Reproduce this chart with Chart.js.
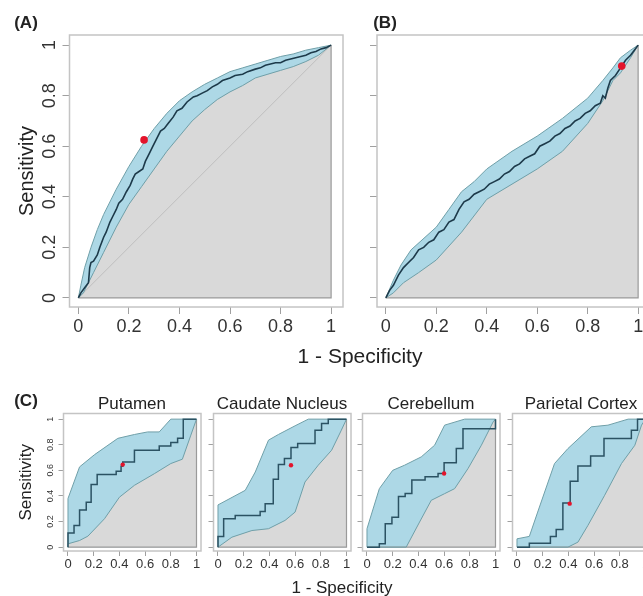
<!DOCTYPE html>
<html>
<head>
<meta charset="utf-8">
<script src="https://cdn.jsdelivr.net/npm/chart.js@4/dist/chart.umd.min.js"></script>
<style>
  html, body { margin: 0; padding: 0; background: #fff; overflow: hidden; }
  #fig { position: relative; width: 643px; height: 596px; font-family: "Liberation Sans", Arial, sans-serif; color: #222; }
  #fig canvas { position: absolute; }
  .lbl { position: absolute; white-space: nowrap; line-height: 1; transform: translate(-50%, -50%); }
</style>
</head>
<body>
<div id="fig">
  <canvas id="cA" width="350" height="345" style="left:0;top:0"></canvas>
  <canvas id="cB" width="310" height="345" style="left:350px;top:0"></canvas>
  <canvas id="c0" width="205" height="171" style="left:0;top:405px"></canvas>
  <canvas id="c1" width="205" height="171" style="left:150px;top:405px"></canvas>
  <canvas id="c2" width="205" height="171" style="left:299px;top:405px"></canvas>
  <canvas id="c3" width="205" height="171" style="left:449px;top:405px"></canvas>

  <div class="lbl" style="left:26px;top:22px;font-size:17px;font-weight:bold">(A)</div>
  <div class="lbl" style="left:385px;top:22px;font-size:17px;font-weight:bold">(B)</div>
  <div class="lbl" style="left:360px;top:355px;font-size:21px">1 - Specificity</div>
  <div class="lbl" style="left:26px;top:400px;font-size:17px;font-weight:bold">(C)</div>
  <div class="lbl" id="t0" style="left:132px;top:403px;font-size:17px"></div>
  <div class="lbl" id="t1" style="left:282px;top:403px;font-size:17px"></div>
  <div class="lbl" id="t2" style="left:431px;top:403px;font-size:17px"></div>
  <div class="lbl" id="t3" style="left:581px;top:403px;font-size:17px"></div>
  <div class="lbl" style="left:342px;top:587px;font-size:17px">1 - Specificity</div>
</div>
<script>
// axis ticks shared by all panels
const tickValues = [0, 0.2, 0.4, 0.6, 0.8, 1];
const tickLabels = ['0', '0.2', '0.4', '0.6', '0.8', '1'];
const panelTitles = ['Putamen', 'Caudate Nucleus', 'Cerebellum', 'Parietal Cortex'];

// (A) ROC curve, CI band, best threshold  — [1-specificity, sensitivity]
const rocA = [[0,0],[0.01,0.02],[0.025,0.04],[0.04,0.06],[0.045,0.12],[0.05,0.14],[0.06,0.145],[0.075,0.17],
  [0.085,0.2],[0.1,0.24],[0.11,0.26],[0.125,0.3],[0.135,0.32],[0.15,0.35],[0.16,0.375],[0.175,0.39],
  [0.19,0.42],[0.205,0.445],[0.215,0.47],[0.225,0.49],[0.24,0.5],[0.255,0.51],[0.265,0.54],[0.28,0.57],
  [0.295,0.6],[0.31,0.63],[0.325,0.66],[0.34,0.67],[0.355,0.69],[0.375,0.715],[0.39,0.74],[0.41,0.75],
  [0.43,0.775],[0.455,0.795],[0.47,0.8],[0.49,0.81],[0.51,0.82],[0.53,0.835],[0.55,0.845],[0.57,0.86],
  [0.6,0.87],[0.62,0.88],[0.65,0.885],[0.67,0.895],[0.7,0.905],[0.72,0.91],[0.74,0.92],[0.76,0.925],
  [0.78,0.93],[0.8,0.93],[0.82,0.94],[0.84,0.945],[0.86,0.95],[0.88,0.955],[0.9,0.96],[0.92,0.97],
  [0.94,0.975],[0.96,0.985],[0.98,0.99],[1,1]];
const upperA = [[0,0],[0.01,0.05],[0.025,0.12],[0.05,0.2],[0.075,0.27],[0.1,0.33],[0.15,0.43],[0.2,0.52],
  [0.25,0.6],[0.3,0.67],[0.35,0.73],[0.4,0.78],[0.45,0.815],[0.5,0.845],[0.55,0.87],[0.6,0.895],
  [0.65,0.91],[0.7,0.925],[0.75,0.94],[0.8,0.955],[0.85,0.965],[0.9,0.98],[0.95,0.99],[1,1]];
const lowerA = [[0,0],[0.02,0.02],[0.06,0.1],[0.1,0.18],[0.15,0.28],[0.2,0.37],[0.25,0.44],[0.3,0.51],
  [0.35,0.58],[0.4,0.64],[0.45,0.7],[0.5,0.745],[0.55,0.785],[0.6,0.815],[0.65,0.84],[0.7,0.87],
  [0.75,0.885],[0.8,0.9],[0.85,0.915],[0.9,0.935],[0.95,0.96],[1,1]];
const bestA = [0.26, 0.625];

// (B)
const rocB = [[0,0],[0.015,0.03],[0.03,0.05],[0.05,0.09],[0.07,0.12],[0.09,0.14],[0.11,0.16],[0.13,0.19],
  [0.15,0.2],[0.17,0.22],[0.19,0.23],[0.21,0.26],[0.23,0.27],[0.25,0.3],[0.27,0.31],[0.29,0.35],
  [0.31,0.38],[0.33,0.39],[0.35,0.41],[0.37,0.42],[0.39,0.43],[0.41,0.45],[0.43,0.46],[0.45,0.47],
  [0.47,0.49],[0.49,0.5],[0.51,0.52],[0.53,0.53],[0.55,0.55],[0.57,0.56],[0.59,0.57],[0.61,0.6],
  [0.63,0.61],[0.65,0.62],[0.67,0.64],[0.69,0.65],[0.71,0.67],[0.73,0.68],[0.75,0.7],[0.77,0.71],
  [0.79,0.73],[0.81,0.74],[0.83,0.76],[0.85,0.77],[0.86,0.8],[0.87,0.79],[0.88,0.83],[0.89,0.86],
  [0.91,0.88],[0.93,0.91],[0.95,0.94],[0.97,0.96],[0.985,0.98],[1,1]];
const upperB = [[0,0],[0.03,0.07],[0.06,0.13],[0.1,0.19],[0.2,0.28],[0.25,0.35],[0.3,0.42],[0.35,0.46],
  [0.4,0.51],[0.5,0.58],[0.6,0.64],[0.7,0.71],[0.8,0.79],[0.86,0.86],[0.9,0.91],[0.93,0.95],[0.97,0.98],[1,1]];
const lowerB = [[0,0],[0.03,0.02],[0.07,0.06],[0.13,0.1],[0.2,0.15],[0.3,0.26],[0.4,0.39],[0.5,0.45],
  [0.6,0.51],[0.7,0.58],[0.8,0.69],[0.86,0.78],[0.9,0.86],[0.93,0.89],[0.97,0.95],[1,1]];
const bestB = [0.935, 0.917];

// (C) regional ROC curves
const rocPutamen = [[0,0],[0,0.11],[0.047,0.11],[0.047,0.17],[0.09,0.17],[0.09,0.29],[0.142,0.29],[0.142,0.35],
  [0.18,0.35],[0.18,0.49],[0.227,0.49],[0.227,0.567],[0.375,0.567],[0.375,0.593],[0.413,0.593],[0.413,0.632],
  [0.426,0.632],[0.426,0.666],[0.517,0.666],[0.517,0.757],[0.71,0.757],[0.71,0.79],[0.8,0.79],[0.8,0.817],
  [0.853,0.817],[0.853,0.85],[0.897,0.85],[0.897,1],[1,1]];
const upperPutamen = [[0,0],[0,0.38],[0.09,0.627],[0.207,0.723],[0.388,0.85],[0.517,0.88],[0.62,0.9],[0.71,0.9],[0.8,1],[1,1]];
const lowerPutamen = [[0,0],[0,0.026],[0.09,0.052],[0.155,0.086],[0.284,0.222],[0.4,0.39],[0.517,0.483],
  [0.672,0.574],[0.8,0.653],[0.89,0.687],[0.956,0.875],[1,1]];
const bestPutamen = [0.426, 0.645];

const rocCaudate = [[0,0],[0,0.084],[0.044,0.084],[0.044,0.222],[0.134,0.222],[0.134,0.248],[0.328,0.248],
  [0.328,0.279],[0.367,0.279],[0.367,0.339],[0.43,0.339],[0.43,0.53],[0.47,0.53],[0.47,0.645],[0.517,0.645],
  [0.517,0.692],[0.568,0.692],[0.568,0.778],[0.62,0.778],[0.62,0.81],[0.755,0.81],[0.755,0.914],[0.806,0.914],
  [0.806,0.966],[0.858,0.966],[0.858,1],[1,1]];
const upperCaudate = [[0,0],[0,0.33],[0.212,0.444],[0.29,0.587],[0.393,0.836],[0.47,0.88],[0.6,0.948],[0.703,1],[1,1]];
const lowerCaudate = [[0,0],[0.108,0.078],[0.264,0.13],[0.393,0.144],[0.522,0.209],[0.6,0.274],[0.677,0.509],
  [0.78,0.64],[0.884,0.757],[0.96,0.914],[1,1]];
const bestCaudate = [0.568, 0.64];

const rocCerebellum = [[0,0],[0.096,0],[0.096,0.026],[0.142,0.026],[0.142,0.182],[0.194,0.182],[0.194,0.234],
  [0.245,0.234],[0.245,0.395],[0.297,0.395],[0.297,0.42],[0.349,0.42],[0.349,0.525],[0.452,0.525],[0.452,0.55],
  [0.553,0.55],[0.553,0.575],[0.6,0.575],[0.6,0.66],[0.695,0.66],[0.695,0.77],[0.747,0.77],[0.747,0.925],
  [1,0.925],[1,1]];
const upperCerebellum = [[0,0],[0,0.144],[0.096,0.457],[0.2,0.6],[0.292,0.64],[0.422,0.705],[0.526,0.796],[0.604,0.953],[0.76,1],[1,1]];
const lowerCerebellum = [[0,0],[0.305,0],[0.409,0.196],[0.5,0.366],[0.604,0.418],[0.682,0.457],[0.786,0.614],
  [0.89,0.796],[0.982,0.979],[1,1]];
const bestCerebellum = [0.6, 0.575];

const rocParietal = [[0,0],[0.096,0],[0.096,0.031],[0.26,0.031],[0.26,0.084],[0.305,0.084],[0.305,0.138],
  [0.357,0.138],[0.357,0.345],[0.414,0.345],[0.414,0.515],[0.474,0.515],[0.474,0.634],[0.573,0.634],
  [0.573,0.713],[0.677,0.713],[0.677,0.849],[0.89,0.849],[0.89,0.914],[0.938,0.914],[0.938,1],[1,1]];
const upperParietal = [[0,0],[0,0.065],[0.096,0.084],[0.161,0.274],[0.292,0.653],[0.396,0.77],[0.578,0.94],[0.708,0.953],[0.865,1],[1,1]];
const lowerParietal = [[0,0],[0.396,0],[0.474,0.039],[0.552,0.17],[0.682,0.405],[0.813,0.653],[0.917,0.796],[0.969,0.953],[1,1]];
const bestParietal = [0.41, 0.34];

const aucEdge = [[0,0],[1,0],[1,1]];
const chance = [[0,0],[1,1]];

const BAND = '#add8e6', BAND_EDGE = '#6f9fa8', AUC = '#d9d9d9', TICK = '#a0a0a0';

const pts = arr => arr.map(([x, y]) => ({ x, y }));

// light grey frame round the plot region, like R's box()
const frame = {
  id: 'frame',
  afterDraw(chart) {
    const { ctx, chartArea: a } = chart;
    ctx.save();
    ctx.strokeStyle = '#c4c4c4';
    ctx.lineWidth = 1.5;
    ctx.strokeRect(a.left, a.top, a.right - a.left, a.bottom - a.top);
    ctx.restore();
  }
};

function rocChart(id, p) {
  const datasets = [
    { data: pts(p.upper), fill: 'origin', backgroundColor: BAND, borderColor: BAND_EDGE, borderWidth: 1, order: 6 },
    { data: pts(p.lower), fill: 'origin', backgroundColor: AUC, borderColor: 'rgba(0,0,0,0)', borderWidth: 1, order: 5 },
    { data: pts(aucEdge), borderColor: '#9a9a9a', borderWidth: 1.2, order: 4 },
    { data: pts(p.lower), borderColor: BAND_EDGE, borderWidth: 1, order: 2 },
    { data: pts(p.roc), borderColor: p.lineColor, borderWidth: p.lineWidth, order: 1 },
    { data: pts([p.best]), showLine: false, pointRadius: p.dot, pointBackgroundColor: '#e3142c', pointBorderWidth: 0, order: 0 }
  ];
  if (p.diag) datasets.push({ data: pts(chance), borderColor: '#bfbfbf', borderWidth: 1, order: 3 });

  return new Chart(document.getElementById(id), {
    type: 'line',
    data: { datasets },
    options: {
      responsive: false,
      animation: false,
      events: [],
      layout: { padding: { left: 0, top: p.padT, right: p.padR, bottom: 0 } },
      elements: { point: { radius: 0 }, line: { tension: 0 } },
      plugins: { legend: { display: false }, tooltip: { enabled: false } },
      scales: {
        x: {
          type: 'linear', min: p.xMin, max: p.xMax,
          afterBuildTicks: ax => { ax.ticks = tickValues.map(v => ({ value: v })); },
          afterFit: ax => { ax.height = p.xAxisH; },
          grid: { drawOnChartArea: false, tickLength: p.tickLen, tickColor: TICK },
          border: { display: false },
          ticks: { font: { size: p.xFont }, color: '#333', padding: p.xPad, maxRotation: 0, autoSkip: false,
                   callback: (v, i) => tickLabels[i] }
        },
        y: {
          type: 'linear', min: p.yMin, max: p.yMax,
          afterBuildTicks: ax => { ax.ticks = tickValues.map(v => ({ value: v })); },
          afterFit: ax => { ax.width = p.yAxisW; },
          grid: { drawOnChartArea: false, tickLength: p.tickLen, tickColor: TICK },
          border: { display: false },
          title: { display: !!p.yTitle, text: p.yTitle || '', color: '#222', font: { size: p.yTitleFont },
                   padding: { top: p.yTitlePad, bottom: 0 } },
          ticks: { display: p.yLabels, font: { size: p.yFont }, color: '#333', padding: p.yPad,
                   minRotation: 90, maxRotation: 90, crossAlign: 'center', autoSkip: false,
                   callback: (v, i) => tickLabels[i] }
        }
      }
    },
    plugins: [frame]
  });
}

const big = { xMin: -0.035, xMax: 1.047, yMin: -0.036, yMax: 1.04, padT: 35, xAxisH: 38, tickLen: 7,
  xFont: 18, yFont: 18, xPad: 2, yPad: 0, lineColor: '#1d3a4a', lineWidth: 1.6, dot: 3.8 };

rocChart('cA', Object.assign({}, big, { roc: rocA, upper: upperA, lower: lowerA, best: bestA, diag: true,
  padR: 7, yAxisW: 69.5, yLabels: true, yTitle: 'Sensitivity', yTitleFont: 20, yTitlePad: 15 }));
rocChart('cB', Object.assign({}, big, { roc: rocB, upper: upperB, lower: lowerB, best: bestB,
  padR: 10, yAxisW: 27, yLabels: false }));

const regions = [
  { roc: rocPutamen, upper: upperPutamen, lower: lowerPutamen, best: bestPutamen },
  { roc: rocCaudate, upper: upperCaudate, lower: lowerCaudate, best: bestCaudate },
  { roc: rocCerebellum, upper: upperCerebellum, lower: lowerCerebellum, best: bestCerebellum },
  { roc: rocParietal, upper: upperParietal, lower: lowerParietal, best: bestParietal }
];
regions.forEach((r, i) => {
  document.getElementById('t' + i).textContent = panelTitles[i];
  rocChart('c' + i, Object.assign({
    xMin: -0.035, xMax: 1.035, yMin: -0.03, yMax: 1.044, padT: 8.5, padR: 3.5, xAxisH: 25, yAxisW: 63.5,
    tickLen: 5, xFont: 13, yFont: 9, xPad: 1, yPad: 2, lineColor: '#2b5263', lineWidth: 1.5, dot: 2.2,
    yLabels: i === 0, yTitle: i === 0 ? 'Sensitivity' : '', yTitleFont: 17, yTitlePad: 16
  }, r));
});
</script>
</body>
</html>
